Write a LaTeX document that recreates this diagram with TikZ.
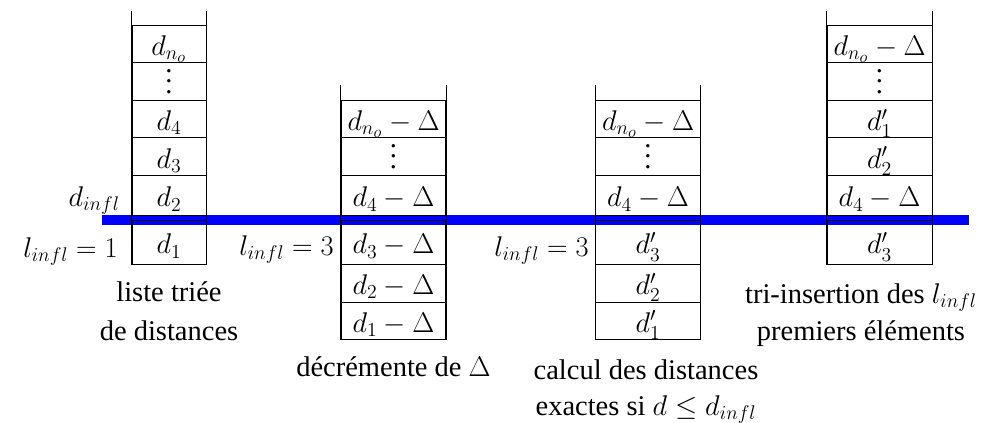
\documentclass[tikz,border=0pt]{standalone}
\usepackage[no-math]{fontspec}
\setmainfont{Liberation Serif}
\newfontfamily\capfont{Liberation Serif}
\newcommand\cvd{\vbox{\baselineskip7.5pt\lineskiplimit0pt\kern10pt\hbox{.}\hbox{.}\hbox{.}}}
\begin{document}
\begin{tikzpicture}[x=0.728pt,y=-0.728pt,
  font=\capfont\fontsize{20.74}{25}\selectfont,
  cell/.style={draw, rectangle, line width=0.7pt, inner sep=0pt, text height=18pt, text depth=1.3pt},
  wa/.style={minimum width=53.9pt},
  wb/.style={minimum width=76.4pt},
  hn/.style={minimum height=27.3pt},
  hm/.style={minimum height=29.3pt},
  ht/.style={minimum height=32pt},
  lbl/.style={align=center, anchor=base, inner sep=0pt},
  side/.style={anchor=base east, inner sep=0pt},
  stem/.style={line width=0.7pt},
  band/.style={draw=blue, line width=7.28pt}]
\useasboundingbox (0,0) rectangle (986,423);
% blue threshold line
\coordinate (bL) at (102,220);
\coordinate (bR) at (969,220);
\draw[band] (bL) -- (bR);
% column 1
\node[cell,wa,hn] (a1) at (169,44.05) {$d_{n_o}$};
\node[cell,wa,hn] (a2) at (169,81.55) {\cvd};
\node[cell,wa,hn] (a3) at (169,119.05) {$d_4$};
\node[cell,wa,hn] (a4) at (169,156.55) {$d_3$};
\node[cell,wa,hm] (a5) at (169,195.4) {$d_2$};
\node[cell,wa,ht] (a6) at (169,242.5) {$d_1$};
\coordinate (at) at (169,11);
\draw[stem] (at -| a6.west) -- (a6.south west);
\draw[stem] (at -| a6.east) -- (a6.south east);
% column 2
\node[cell,wb,hn] (b1) at (393.5,119.05) {$d_{n_o}-\Delta$};
\node[cell,wb,hn] (b2) at (393.5,156.55) {\cvd};
\node[cell,wb,hm] (b3) at (393.5,195.4) {$d_4-\Delta$};
\node[cell,wb,ht] (b4) at (393.5,242.5) {$d_3-\Delta$};
\node[cell,wb,hn] (b5) at (393.5,283.25) {$d_2-\Delta$};
\node[cell,wb,hn] (b6) at (393.5,320.75) {$d_1-\Delta$};
\coordinate (bt) at (393.5,85);
\draw[stem] (bt -| b6.west) -- (b6.south west);
\draw[stem] (bt -| b6.east) -- (b6.south east);
% column 3
\node[cell,wb,hn] (c1) at (648,119.05) {$d_{n_o}-\Delta$};
\node[cell,wb,hn] (c2) at (648,156.55) {\cvd};
\node[cell,wb,hm] (c3) at (648,195.4) {$d_4-\Delta$};
\node[cell,wb,ht] (c4) at (648,242.5) {$d'_3$};
\node[cell,wb,hn] (c5) at (648,283.25) {$d'_2$};
\node[cell,wb,hn] (c6) at (648,320.75) {$d'_1$};
\coordinate (ct) at (648,85);
\draw[stem] (ct -| c6.west) -- (c6.south west);
\draw[stem] (ct -| c6.east) -- (c6.south east);
% column 4
\node[cell,wb,hn] (d1) at (879.5,44.05) {$d_{n_o}-\Delta$};
\node[cell,wb,hn] (d2) at (879.5,81.55) {\cvd};
\node[cell,wb,hn] (d3) at (879.5,119.05) {$d'_1$};
\node[cell,wb,hn] (d4) at (879.5,156.55) {$d'_2$};
\node[cell,wb,hm] (d5) at (879.5,195.4) {$d_4-\Delta$};
\node[cell,wb,ht] (d6) at (879.5,242.5) {$d'_3$};
\coordinate (dt) at (879.5,11);
\draw[stem] (dt -| d6.west) -- (d6.south west);
\draw[stem] (dt -| d6.east) -- (d6.south east);
% side labels
\node[side] (sdi) at (120,206) {$d_{infl}$};
\node[side] (sl1) at (118,257) {$l_{infl}=1$};
\node[side] (sl2) at (334,255.5) {$l_{infl}=3$};
\node[side] (sl3) at (589,256.5) {$l_{infl}=3$};
% captions (base anchor = baseline of the last line)
\node[lbl] (t1) at (169,340.7) {liste triée\\[3.4pt]de distances};
\node[lbl] (t2) at (393.5,376.5) {décrémente de $\Delta$};
\node[lbl] (t3) at (646,415.7) {calcul des distances\\[1pt]exactes si $d\leq d_{infl}$};
\node[lbl] (t4) at (861,340) {tri-insertion des $l_{infl}$\\[1.7pt]premiers éléments};
\end{tikzpicture}
\end{document}
